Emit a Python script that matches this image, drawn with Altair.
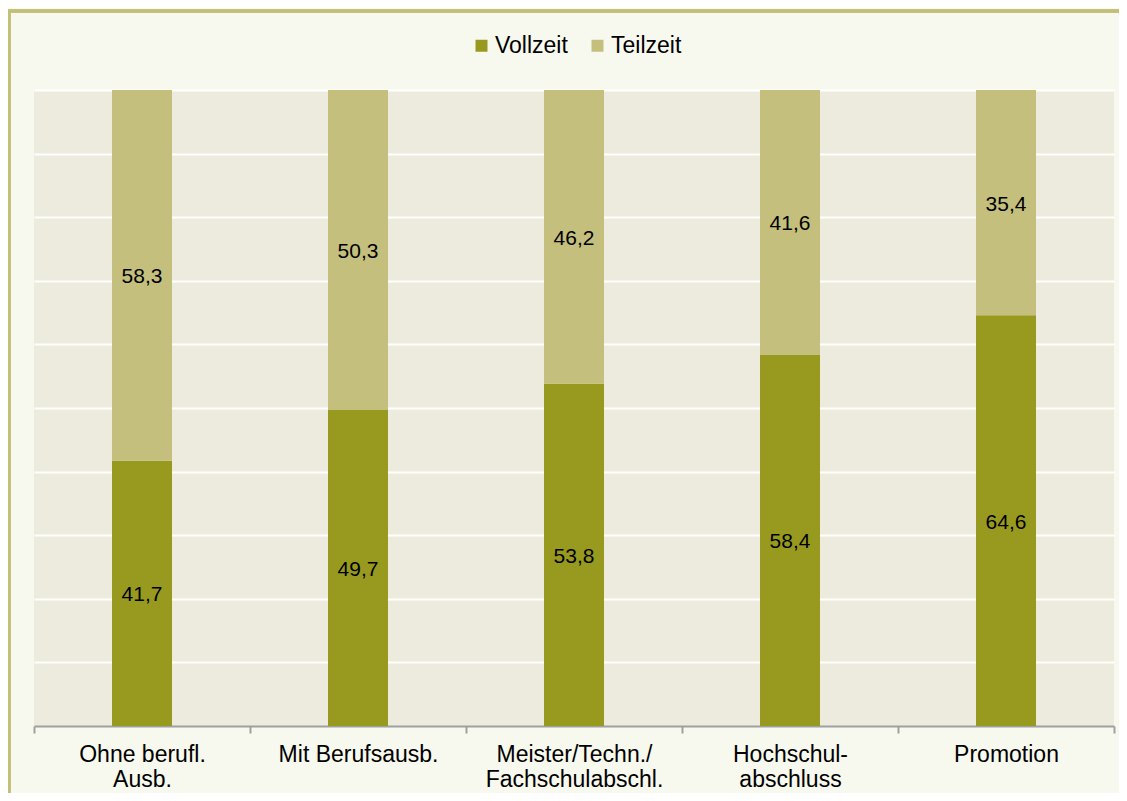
import altair as alt
import pandas as pd

categories = ["Ohne berufl.|Ausb.", "Mit Berufsausb.", "Meister/Techn./|Fachschulabschl.", "Hochschul-|abschluss", "Promotion"]
vollzeit = [41.7, 49.7, 53.8, 58.4, 64.6]
teilzeit = [58.3, 50.3, 46.2, 41.6, 35.4]
series = ["Vollzeit", "Teilzeit"]
colors = ["#989A20", "#C4BF7C"]

rows = []
for i, c in enumerate(categories):
    rows.append({"category": c, "series": "Vollzeit", "ord": 0, "value": vollzeit[i]})
    rows.append({"category": c, "series": "Teilzeit", "ord": 1, "value": teilzeit[i]})
df = pd.DataFrame(rows)

FONT = "Liberation Sans"

base = alt.Chart(df).transform_stack(
    stack="value", groupby=["category"], as_=["y0", "y1"], sort=[alt.SortField("ord")]
).transform_calculate(
    mid="(datum.y0 + datum.y1) / 2",
    lbl="replace(format(datum.value, '.1f'), '.', ',')",
)

xenc = alt.X(
    "category:N",
    sort=categories,
    scale=alt.Scale(paddingInner=0, paddingOuter=0),
    axis=alt.Axis(
        title=None,
        labelAngle=0,
        labelExpr="split(datum.label, '|')",
        labelFont=FONT,
        labelFontSize=23,
        labelColor="#000000",
        labelLineHeight=25,
        labelPadding=10,
        labelBaseline="top",
        tickBand="extent",
        tickSize=7,
        tickColor="#A0A0A0",
        tickWidth=2,
        domainColor="#A0A0A0",
        domainWidth=2,
        grid=False,
    ),
)

yscale = alt.Scale(domain=[0, 100], nice=False)

bars = base.mark_bar(size=60).encode(
    x=xenc,
    y=alt.Y(
        "y1:Q",
        scale=yscale,
        axis=alt.Axis(
            title=None, labels=False, ticks=False, domain=False,
            grid=True, gridColor="#FFFFFF", gridWidth=2, values=list(range(10, 101, 10)),
        ),
    ),
    y2="y0:Q",
    color=alt.Color(
        "series:N",
        scale=alt.Scale(domain=series, range=colors),
        legend=alt.Legend(
            title=None,
            orient="none",
            direction="horizontal",
            legendX=436,
            legendY=-56,
            symbolType="square",
            symbolSize=144,
            symbolStrokeWidth=0,
            labelFont=FONT,
            labelFontSize=23,
            labelColor="#000000",
            labelOffset=2,
            columnPadding=18,
        ),
    ),
)

texts = base.mark_text(font=FONT, fontSize=21, color="#000000", baseline="middle", dy=2).encode(
    x=alt.X("category:N", sort=categories),
    y=alt.Y("mid:Q", scale=yscale),
    text="lbl:N",
)

border_top = alt.Chart(df).mark_rule(color="#C3BE78", strokeWidth=2.5).encode(
    x=alt.value(-26), x2=alt.value(1090), y=alt.value(-79)
)
border_left = alt.Chart(df).mark_rule(color="#C3BE78", strokeWidth=2.5).encode(
    x=alt.value(-25), y=alt.value(-79), y2=alt.value(710)
)

chart = alt.layer(bars, texts, border_top, border_left).properties(
    width=1080,
    height=636,
    autosize=alt.AutoSizeParams(type="none"),
    padding={"left": 26, "top": 82, "right": 5, "bottom": 67},
    background="#F8F9EE",
).configure_view(
    fill="#EDEBDD", stroke=None
)

chart.save("out.html", embed_options={"renderer": "svg", "actions": False})
